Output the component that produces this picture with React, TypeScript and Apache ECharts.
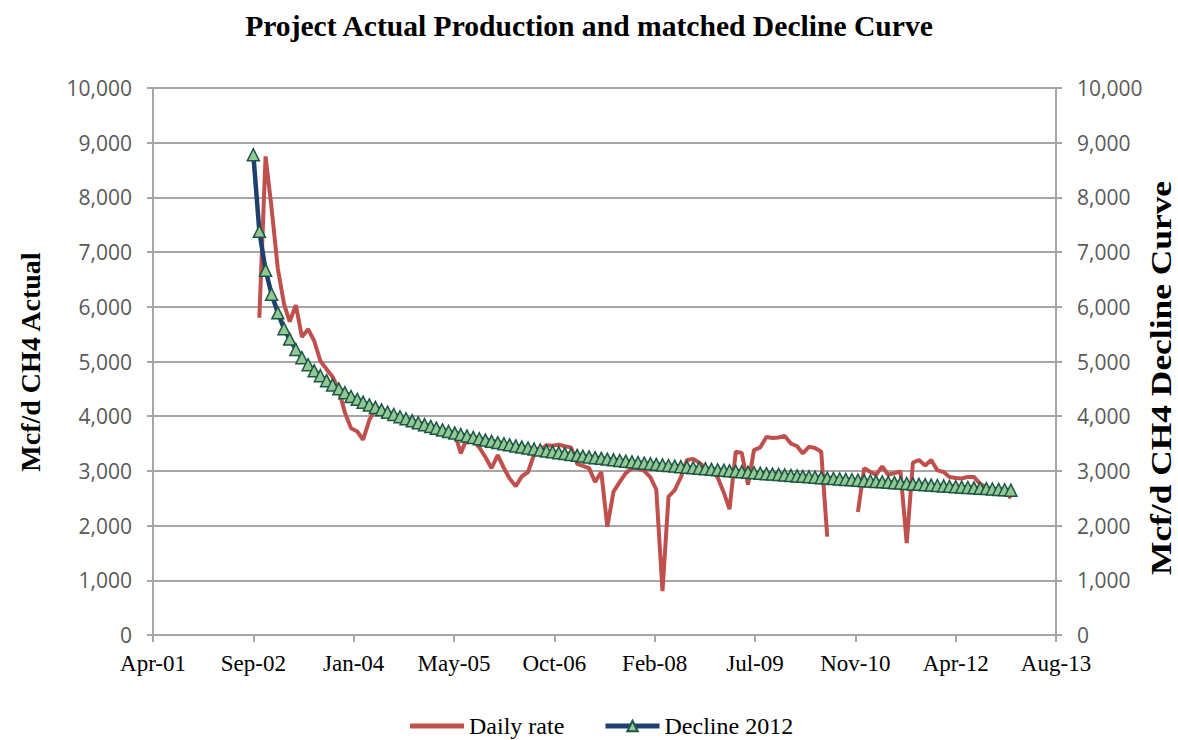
import React, { useEffect, useRef } from "react";
import * as echarts from "echarts";

// Monthly values, first month = Sep-2002
const START_YEAR = 2002;
const START_MONTH = 8; // September (0-based)

const declineValues = [
  8780, 7380, 6670, 6230, 5890, 5600, 5410, 5220, 5070, 4940,
  4830, 4740, 4650, 4570, 4500, 4430, 4360, 4308, 4256, 4207,
  4160, 4116, 4073, 4031, 3990, 3953, 3916, 3880, 3845, 3813,
  3781, 3750, 3720, 3692, 3665, 3638, 3612, 3588, 3564, 3541,
  3518, 3497, 3476, 3456, 3436, 3418, 3400, 3382, 3364, 3348,
  3332, 3316, 3300, 3285, 3271, 3256, 3242, 3229, 3216, 3203,
  3190, 3178, 3166, 3154, 3142, 3131, 3120, 3109, 3098, 3088,
  3078, 3068, 3058, 3048, 3039, 3029, 3020, 3011, 3002, 2993,
  2984, 2976, 2967, 2959, 2950, 2942, 2934, 2925, 2917, 2909,
  2901, 2893, 2885, 2877, 2869, 2861, 2853, 2845, 2838, 2830,
  2822, 2815, 2807, 2800, 2792, 2785, 2777, 2770, 2762, 2755,
  2748, 2740, 2733, 2726, 2718, 2711, 2704, 2697, 2690, 2683,
  2676, 2669, 2662, 2655, 2648,
];

const dailyRate: (number | null)[] = [
  null, 5800, 8750, 7800, 6700, 6050, 5730, 6030, 5450, 5590,
  5380, 5010, 4860, 4720, 4480, 4070, 3780, 3720, 3570, 3930,
  4130, 4100, 4060, 4020, 3980, 3940, 3900, 3870, 3830, 3800,
  3770, 3740, 3710, 3680, 3320, 3610, 3560, 3430, 3250, 3050,
  3290, 3050, 2860, 2720, 2900, 2980, 3300, 3380, 3470, 3460,
  3480, 3450, 3430, 3130, 3090, 3050, 2800, 2980, 1980, 2620,
  2800, 2960, 3050, 3040, 3000, 2880, 2660, 800, 2530, 2650,
  2880, 3200, 3220, 3150, 3060, 3000, 2880, 2600, 2300, 3350,
  3330, 2750, 3380, 3430, 3620, 3600, 3610, 3640, 3500, 3450,
  3320, 3440, 3420, 3350, 1800, null, null, null, null, 2250,
  3050, 2980, 2930, 3080, 2930, 2960, 2990, 1680, 3150, 3200,
  3100, 3200, 3010, 2980, 2890, 2870, 2860, 2890, 2890, 2760,
  2700, 2670, 2660, 2650, 2500,
];

// X axis in Excel date serials (Apr-01 .. Aug-13, every 500 days)
const X_MIN = 37000;
const X_MAX = 41500;
const X_INTERVAL = 500;
const Y_MAX = 10000;
const Y_INTERVAL = 1000;

const MONTHS = ["Jan", "Feb", "Mar", "Apr", "May", "Jun", "Jul", "Aug", "Sep", "Oct", "Nov", "Dec"];
const EPOCH = Date.UTC(1899, 11, 30);
const DAY = 86400000;

const monthSerial = (i: number) => (Date.UTC(START_YEAR, START_MONTH + i, 1) - EPOCH) / DAY;
const fmtSerial = (v: number) => {
  const d = new Date(EPOCH + Math.round(v) * DAY);
  return MONTHS[d.getUTCMonth()] + "-" + String(d.getUTCFullYear() % 100).padStart(2, "0");
};

const SERIF = "'Liberation Serif', 'Times New Roman', serif";
const SANS = "'Open Sans', 'Noto Sans', sans-serif";

const RED = "#c0504d";
const NAVY = "#1f3f6e";

export default function App() {
  const ref = useRef<HTMLDivElement>(null);

  useEffect(() => {
    if (!ref.current) return;
    const chart = echarts.init(ref.current, null, { renderer: "svg" });

    const gridColor = "#a6a6a6";
    const yAxisBase = {
      type: "value",
      min: 0,
      max: Y_MAX,
      interval: Y_INTERVAL,
      axisLine: { show: true, lineStyle: { color: gridColor, width: 2 } },
      axisTick: { show: true, length: 6, lineStyle: { color: gridColor, width: 2 } },
      axisLabel: {
        color: "#595959",
        fontFamily: SANS,
        fontSize: 21,
        margin: 21,
        formatter: (v: number) => v.toLocaleString("en-US"),
      },
    };

    const legendText = { fontFamily: SERIF, fontSize: 24, color: "#000" };

    chart.setOption({
      animation: false,
      backgroundColor: "#ffffff",
      title: {
        text: "Project Actual Production and matched Decline Curve",
        left: "center",
        top: 6,
        textStyle: { fontFamily: SERIF, fontWeight: "bold", fontSize: 29.6, color: "#000" },
      },
      grid: { left: 153, right: 122, top: 88, bottom: 105 },
      legend: [
        {
          left: 405,
          top: 709,
          itemWidth: 54,
          itemHeight: 5,
          icon: "rect",
          textStyle: legendText,
          data: [{ name: "Daily rate", icon: "rect" }],
        },
        {
          left: 598,
          top: 709,
          itemWidth: 54,
          itemHeight: 13,
          lineStyle: { width: 5 },
          textStyle: legendText,
          data: ["Decline 2012"],
        },
      ],
      xAxis: {
        type: "value",
        min: X_MIN,
        max: X_MAX,
        interval: X_INTERVAL,
        axisLine: { show: true, lineStyle: { color: gridColor, width: 2 } },
        axisTick: { show: true, length: 7, lineStyle: { color: gridColor, width: 2 } },
        splitLine: { show: false },
        axisLabel: {
          color: "#000",
          fontFamily: SERIF,
          fontSize: 23,
          margin: 17,
          formatter: (v: number) => fmtSerial(v),
        },
      },
      yAxis: [
        {
          ...yAxisBase,
          position: "left",
          splitLine: { show: true, lineStyle: { color: gridColor, width: 2 } },
        },
        {
          ...yAxisBase,
          position: "right",
          splitLine: { show: false },
        },
      ],
      graphic: [
        {
          type: "text",
          x: 30,
          y: 362,
          rotation: Math.PI / 2,
          style: {
            text: "Mcf/d CH4 Actual",
            fontFamily: SERIF,
            fontWeight: "bold",
            fontSize: 28,
            fill: "#000",
            align: "center",
            verticalAlign: "middle",
          },
        },
        {
          type: "text",
          x: 1161,
          y: 378,
          rotation: Math.PI / 2,
          scaleX: 1.18,
          style: {
            text: "Mcf/d CH4 Decline Curve",
            fontFamily: SERIF,
            fontWeight: "bold",
            fontSize: 30,
            fill: "#000",
            align: "center",
            verticalAlign: "middle",
          },
        },
      ],
      series: [
        {
          name: "Daily rate",
          type: "line",
          yAxisIndex: 0,
          symbol: "none",
          connectNulls: false,
          lineStyle: { color: RED, width: 4 },
          itemStyle: { color: RED },
          data: dailyRate.map((v, i) => [monthSerial(i), v === null ? "-" : v]),
        },
        {
          name: "Decline 2012",
          type: "line",
          yAxisIndex: 1,
          symbol: "triangle",
          symbolSize: 12,
          showAllSymbol: true,
          lineStyle: { color: NAVY, width: 4.5 },
          itemStyle: { color: "#92c992", borderColor: "#1d5646", borderWidth: 1.5 },
          data: declineValues.map((v, i) => [monthSerial(i), v]),
        },
      ],
    });

    return () => chart.dispose();
  }, []);

  return (
    <div
      ref={ref}
      style={{ position: "absolute", left: 0, top: 0, width: 1178, height: 740 }}
    />
  );
}
